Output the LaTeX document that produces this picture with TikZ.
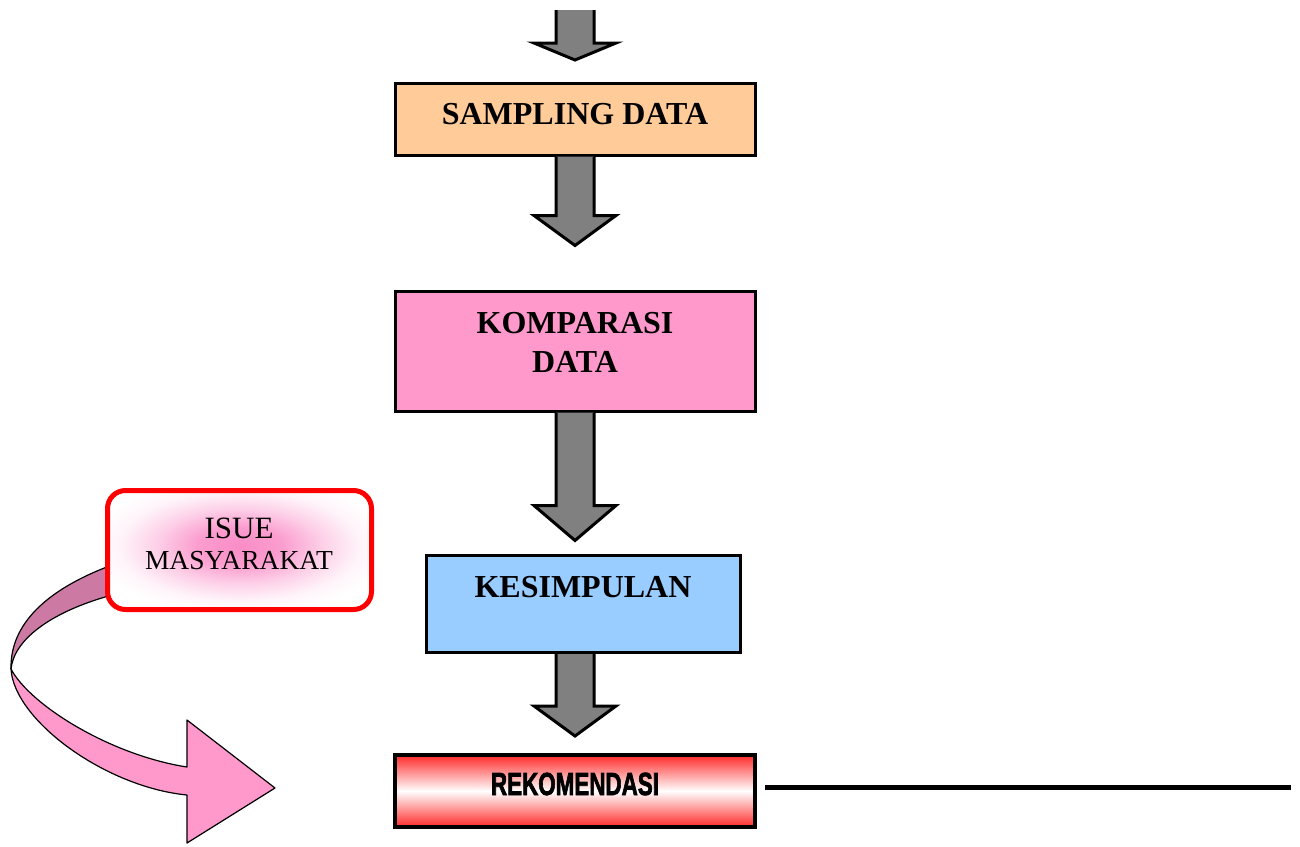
\documentclass[tikz,border=0pt]{standalone}
\usepackage{fontspec}
\usepackage{graphicx}
\setmainfont{Liberation Serif}
\newfontfamily\rekfont[BoldFeatures={FakeBold=2.5}]{Liberation Sans}
\definecolor{peach}{HTML}{FFCC99}
\definecolor{pinkbox}{HTML}{FF99CC}
\definecolor{bluebox}{HTML}{99CCFF}
\definecolor{arrgray}{HTML}{808080}
\definecolor{mauve}{HTML}{CC7AA3}
\definecolor{rekred}{HTML}{FF2A2A}
\definecolor{isuepink}{HTML}{FA8CC6}
\pgfdeclareradialshading{isueshade}{\pgfpoint{0bp}{0bp}}{%
  color(0bp)=(isuepink); color(7bp)=(isuepink!85!white);
  color(14bp)=(isuepink!40!white); color(20bp)=(isuepink!10!white);
  color(25bp)=(white); color(50bp)=(white)}
\tikzset{
  flowbox/.style={draw=black, line width=3pt, inner sep=0pt},
  boxtext/.style={font=\bfseries\fontsize{32}{39}\selectfont, align=center, inner sep=0pt},
  garr/.style={draw=black, fill=arrgray, line width=3pt, line join=miter},
  ribbon/.style={draw=black, line width=1.2pt, line join=round},
}
\newcommand\garrow[3]{\draw[garr] ([xshift=-19pt]#1) -- ++(0,#2) -- ++(-22,0) -- ++(41,#3) -- ++(41,-#3) -- ++(-22,0) -- ([xshift=19pt]#1);}
\begin{document}
\begin{tikzpicture}[x=1pt,y=-1pt]
\useasboundingbox (0,0) rectangle (1300,846);

% curved ribbon arrow
\fill[mauve] (112,565) .. controls (45,590) and (10,625) .. (11,669)
  .. controls (14,640) and (50,612) .. (112,595) -- cycle;
\draw[ribbon] (112,565) .. controls (45,590) and (10,625) .. (11,669);
\draw[ribbon] (112,595) .. controls (50,612) and (14,640) .. (11,669);
\draw[ribbon, fill=pinkbox] (11,669) .. controls (30,705) and (110,755) .. (187,767)
  -- (187,720) -- (275,788) -- (187,843) -- (187,795)
  .. controls (105,787) and (14,720) .. (11,669) -- cycle;

% boxes
\node[flowbox, fill=peach, minimum width=360pt, minimum height=72pt] (samp) at (575,119) {};
\node[boxtext] (sampt) at (575,114) {SAMPLING DATA};

\node[flowbox, fill=pinkbox, minimum width=360pt, minimum height=120pt] (komp) at (575,351) {};
\node[boxtext] (kompt) at (575,342) {KOMPARASI\\DATA};

\node[flowbox, fill=bluebox, minimum width=314pt, minimum height=97pt] (kes) at (583.5,604) {};
\node[boxtext] (kest) at (583,587) {KESIMPULAN};

\node[flowbox, line width=4pt, minimum width=360pt, minimum height=72pt,
  path picture={\shade[top color=rekred, bottom color=rekred, middle color=white]
    (path picture bounding box.south west) rectangle (path picture bounding box.north east);}] (rek) at (575,791) {};
\node[inner sep=0pt, font=\rekfont\bfseries\fontsize{32}{36}\selectfont] (rekt) at (575,784) {\scalebox{0.70}[1]{REKOMENDASI}};

\node[draw=red, line width=5pt, rounded corners=18pt, fill=white, inner sep=0pt,
  minimum width=264pt, minimum height=119pt,
  path picture={\shade[shading=isueshade]
    ([yshift=4pt]path picture bounding box.center) ellipse (150pt and 68pt);}] (isue) at (239.5,550) {};
\node[inner sep=0pt, font=\fontsize{31}{31}\selectfont] (isue1) at (239,528) {ISUE};
\node[inner sep=0pt, font=\fontsize{27.5}{28}\selectfont] (isue2) at (239,561) {MASYARAKAT};

% gray block arrows
\coordinate (topstart) at (575,10);
\coordinate (kesout) at (kes.south -| samp.south);
\garrow{topstart}{33}{17}
\garrow{samp.south}{59}{30}
\garrow{komp.south}{93}{35}
\garrow{kesout}{52}{30}

% right line
\coordinate (lineend) at (1291,787);
\draw[line width=5pt] ([xshift=8pt,yshift=4pt]rek.east) -- (lineend);
\end{tikzpicture}
\end{document}
